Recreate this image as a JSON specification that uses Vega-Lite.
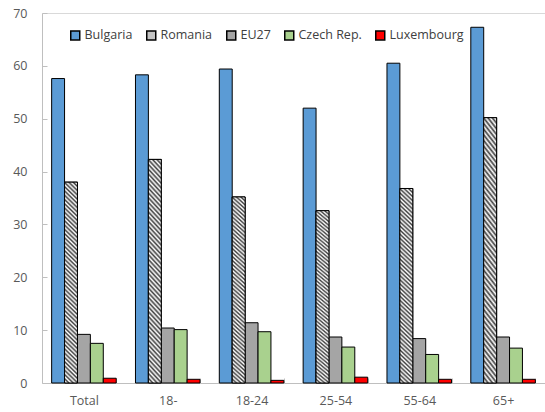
{
  "$schema": "https://vega.github.io/schema/vega-lite/v6.json",
  "width": 503,
  "height": 370,
  "autosize": "none",
  "padding": {"left": 42, "top": 13, "right": 0, "bottom": 29},
  "background": "white",
  "config": {
    "font": "Open Sans",
    "view": {"stroke": null},
    "axis": {"labelFont": "Open Sans", "labelFontSize": 12.5, "labelColor": "#595959", "domainColor": "#bfbfbf", "tickColor": "#bfbfbf", "title": null}
  },
  "data": {
    "values": [
      {"group": "Total", "country": "Bulgaria", "value": 57.6},
      {"group": "Total", "country": "Romania", "value": 38.0},
      {"group": "Total", "country": "EU27", "value": 9.2},
      {"group": "Total", "country": "Czech Rep.", "value": 7.5},
      {"group": "Total", "country": "Luxembourg", "value": 0.9},
      {"group": "18-", "country": "Bulgaria", "value": 58.3},
      {"group": "18-", "country": "Romania", "value": 42.3},
      {"group": "18-", "country": "EU27", "value": 10.4},
      {"group": "18-", "country": "Czech Rep.", "value": 10.1},
      {"group": "18-", "country": "Luxembourg", "value": 0.7},
      {"group": "18-24", "country": "Bulgaria", "value": 59.4},
      {"group": "18-24", "country": "Romania", "value": 35.2},
      {"group": "18-24", "country": "EU27", "value": 11.4},
      {"group": "18-24", "country": "Czech Rep.", "value": 9.7},
      {"group": "18-24", "country": "Luxembourg", "value": 0.5},
      {"group": "25-54", "country": "Bulgaria", "value": 52.0},
      {"group": "25-54", "country": "Romania", "value": 32.6},
      {"group": "25-54", "country": "EU27", "value": 8.7},
      {"group": "25-54", "country": "Czech Rep.", "value": 6.8},
      {"group": "25-54", "country": "Luxembourg", "value": 1.1},
      {"group": "55-64", "country": "Bulgaria", "value": 60.5},
      {"group": "55-64", "country": "Romania", "value": 36.8},
      {"group": "55-64", "country": "EU27", "value": 8.4},
      {"group": "55-64", "country": "Czech Rep.", "value": 5.4},
      {"group": "55-64", "country": "Luxembourg", "value": 0.7},
      {"group": "65+", "country": "Bulgaria", "value": 67.3},
      {"group": "65+", "country": "Romania", "value": 50.2},
      {"group": "65+", "country": "EU27", "value": 8.7},
      {"group": "65+", "country": "Czech Rep.", "value": 6.6},
      {"group": "65+", "country": "Luxembourg", "value": 0.7}
    ]
  },
  "encoding": {
    "x": {
      "field": "group",
      "type": "nominal",
      "sort": ["Total", "18-", "18-24", "25-54", "55-64", "65+"],
      "scale": {"paddingInner": 0.23, "paddingOuter": 0.115},
      "axis": {"labelAngle": 0, "tickBand": "extent", "tickSize": -5, "labelPadding": 16}
    },
    "xOffset": {
      "field": "country",
      "type": "nominal",
      "sort": ["Bulgaria", "Romania", "EU27", "Czech Rep.", "Luxembourg"],
      "scale": {"domain": ["Bulgaria", "Romania", "EU27", "Czech Rep.", "Luxembourg"], "paddingInner": 0, "paddingOuter": 0}
    },
    "y": {
      "field": "value",
      "type": "quantitative",
      "scale": {"domain": [0, 70]},
      "axis": {
        "values": [0, 10, 20, 30, 40, 50, 60, 70],
        "tickSize": -5,
        "labelPadding": 20,
        "grid": true,
        "gridColor": "#d9d9d9",
        "gridOpacity": {"condition": {"test": "datum.value === 70", "value": 1}, "value": 0}
      }
    }
  },
  "layer": [
    {
      "mark": {"type": "bar", "stroke": "black", "strokeWidth": 1},
      "encoding": {
        "color": {
          "field": "country",
          "type": "nominal",
          "sort": ["Bulgaria", "Romania", "EU27", "Czech Rep.", "Luxembourg"],
          "scale": {
            "domain": ["Bulgaria", "Romania", "EU27", "Czech Rep.", "Luxembourg"],
            "range": ["#5b9bd5", "#c4c4c4", "#a5a5a5", "#a9d18e", "#ff0000"]
          },
          "legend": {
            "orient": "none",
            "legendX": 27,
            "legendY": 16,
            "direction": "horizontal",
            "title": null,
            "padding": 0,
            "symbolType": "square",
            "symbolSize": 81,
            "symbolOpacity": 1,
            "labelFont": "Open Sans",
            "labelFontSize": 12.5,
            "labelColor": "#404040",
            "labelOffset": 3,
            "columnPadding": 10,
            "encode": {
              "symbols": {
                "update": {
                  "stroke": {"value": "black"},
                  "strokeWidth": {"value": 1}
                }
              }
            }
          }
        }
      }
    },
    {
      "transform": [{"filter": "datum.country === 'Romania'"}],
      "mark": {
        "type": "bar",
        "stroke": "black",
        "strokeWidth": 1,
        "fill": {
          "gradient": "linear",
          "x1": 0, "y1": 1, "x2": 0.0662, "y2": -0.0584,
          "stops": [
            {"offset": 0.00, "color": "#404040"}, {"offset": 0.01, "color": "#ffffff"},
            {"offset": 0.02, "color": "#404040"}, {"offset": 0.03, "color": "#ffffff"},
            {"offset": 0.04, "color": "#404040"}, {"offset": 0.05, "color": "#ffffff"},
            {"offset": 0.06, "color": "#404040"}, {"offset": 0.07, "color": "#ffffff"},
            {"offset": 0.08, "color": "#404040"}, {"offset": 0.09, "color": "#ffffff"},
            {"offset": 0.10, "color": "#404040"}, {"offset": 0.11, "color": "#ffffff"},
            {"offset": 0.12, "color": "#404040"}, {"offset": 0.13, "color": "#ffffff"},
            {"offset": 0.14, "color": "#404040"}, {"offset": 0.15, "color": "#ffffff"},
            {"offset": 0.16, "color": "#404040"}, {"offset": 0.17, "color": "#ffffff"},
            {"offset": 0.18, "color": "#404040"}, {"offset": 0.19, "color": "#ffffff"},
            {"offset": 0.20, "color": "#404040"}, {"offset": 0.21, "color": "#ffffff"},
            {"offset": 0.22, "color": "#404040"}, {"offset": 0.23, "color": "#ffffff"},
            {"offset": 0.24, "color": "#404040"}, {"offset": 0.25, "color": "#ffffff"},
            {"offset": 0.26, "color": "#404040"}, {"offset": 0.27, "color": "#ffffff"},
            {"offset": 0.28, "color": "#404040"}, {"offset": 0.29, "color": "#ffffff"},
            {"offset": 0.30, "color": "#404040"}, {"offset": 0.31, "color": "#ffffff"},
            {"offset": 0.32, "color": "#404040"}, {"offset": 0.33, "color": "#ffffff"},
            {"offset": 0.34, "color": "#404040"}, {"offset": 0.35, "color": "#ffffff"},
            {"offset": 0.36, "color": "#404040"}, {"offset": 0.37, "color": "#ffffff"},
            {"offset": 0.38, "color": "#404040"}, {"offset": 0.39, "color": "#ffffff"},
            {"offset": 0.40, "color": "#404040"}, {"offset": 0.41, "color": "#ffffff"},
            {"offset": 0.42, "color": "#404040"}, {"offset": 0.43, "color": "#ffffff"},
            {"offset": 0.44, "color": "#404040"}, {"offset": 0.45, "color": "#ffffff"},
            {"offset": 0.46, "color": "#404040"}, {"offset": 0.47, "color": "#ffffff"},
            {"offset": 0.48, "color": "#404040"}, {"offset": 0.49, "color": "#ffffff"},
            {"offset": 0.50, "color": "#404040"}, {"offset": 0.51, "color": "#ffffff"},
            {"offset": 0.52, "color": "#404040"}, {"offset": 0.53, "color": "#ffffff"},
            {"offset": 0.54, "color": "#404040"}, {"offset": 0.55, "color": "#ffffff"},
            {"offset": 0.56, "color": "#404040"}, {"offset": 0.57, "color": "#ffffff"},
            {"offset": 0.58, "color": "#404040"}, {"offset": 0.59, "color": "#ffffff"},
            {"offset": 0.60, "color": "#404040"}, {"offset": 0.61, "color": "#ffffff"},
            {"offset": 0.62, "color": "#404040"}, {"offset": 0.63, "color": "#ffffff"},
            {"offset": 0.64, "color": "#404040"}, {"offset": 0.65, "color": "#ffffff"},
            {"offset": 0.66, "color": "#404040"}, {"offset": 0.67, "color": "#ffffff"},
            {"offset": 0.68, "color": "#404040"}, {"offset": 0.69, "color": "#ffffff"},
            {"offset": 0.70, "color": "#404040"}, {"offset": 0.71, "color": "#ffffff"},
            {"offset": 0.72, "color": "#404040"}, {"offset": 0.73, "color": "#ffffff"},
            {"offset": 0.74, "color": "#404040"}, {"offset": 0.75, "color": "#ffffff"},
            {"offset": 0.76, "color": "#404040"}, {"offset": 0.77, "color": "#ffffff"},
            {"offset": 0.78, "color": "#404040"}, {"offset": 0.79, "color": "#ffffff"},
            {"offset": 0.80, "color": "#404040"}, {"offset": 0.81, "color": "#ffffff"},
            {"offset": 0.82, "color": "#404040"}, {"offset": 0.83, "color": "#ffffff"},
            {"offset": 0.84, "color": "#404040"}, {"offset": 0.85, "color": "#ffffff"},
            {"offset": 0.86, "color": "#404040"}, {"offset": 0.87, "color": "#ffffff"},
            {"offset": 0.88, "color": "#404040"}, {"offset": 0.89, "color": "#ffffff"},
            {"offset": 0.90, "color": "#404040"}, {"offset": 0.91, "color": "#ffffff"},
            {"offset": 0.92, "color": "#404040"}, {"offset": 0.93, "color": "#ffffff"},
            {"offset": 0.94, "color": "#404040"}, {"offset": 0.95, "color": "#ffffff"},
            {"offset": 0.96, "color": "#404040"}, {"offset": 0.97, "color": "#ffffff"},
            {"offset": 0.98, "color": "#404040"}, {"offset": 0.99, "color": "#ffffff"},
            {"offset": 1.00, "color": "#404040"}
          ]
        }
      }
    }
  ]
}
